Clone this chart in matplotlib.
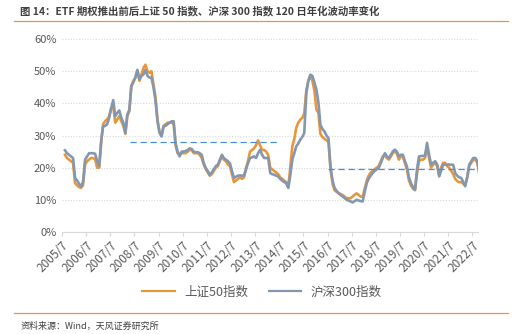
import matplotlib
matplotlib.use("Agg")
import matplotlib.pyplot as plt
import pandas as pd

plt.rcParams['font.family'] = ['Noto Sans CJK SC', 'DejaVu Sans']

# monthly dates, 2005/7 - 2022/9
dates = pd.date_range('2005-07-15', periods=207, freq='MS') + pd.Timedelta(days=14)

# 沪深300指数 120日年化波动率 (%), monthly reading
hs300 = [
    25.4, 24.5, 24.0, 23.5, 23.0, 16.8,
    16.0, 15.0, 14.2, 15.5, 22.5, 23.5, 24.5, 24.5, 24.5, 24.3, 22.0, 20.5,
    28.7, 32.8, 33.0, 33.5, 35.5, 38.5, 41.0, 36.0, 37.0, 37.8, 35.5, 34.0,
    30.8, 36.5, 38.0, 45.3, 46.5, 48.0, 50.4, 47.5, 48.5, 49.0, 50.4, 48.5,
    48.0, 48.0, 45.0, 41.0, 34.4, 31.0, 29.7, 32.8, 33.0, 33.5, 34.0, 34.4,
    34.4, 27.7, 25.0, 23.5, 25.0, 25.0, 25.2, 25.5, 26.0, 25.8, 25.0, 24.8,
    24.8, 24.5, 24.0, 21.5, 19.9, 19.0, 17.8, 18.5, 19.5, 20.5, 20.9, 22.5,
    24.0, 23.0, 22.5, 22.0, 21.4, 19.0, 16.8, 17.2, 17.5, 17.6, 17.5, 17.6,
    19.5, 21.4, 23.0, 23.2, 23.5, 23.0, 24.5, 25.6, 24.0, 23.0, 23.0, 23.0,
    18.3, 18.0, 17.8, 17.5, 17.3, 16.5, 16.0, 15.5, 15.2, 13.7, 17.5, 22.5,
    24.5, 26.6, 27.5, 28.7, 29.5, 30.8, 43.2, 47.0, 48.9, 48.5, 46.5, 44.2,
    40.1, 33.3, 32.0, 31.3, 30.0, 29.2, 20.4, 16.0, 13.7, 12.8, 12.1, 11.5,
    11.0, 10.6, 10.0, 9.8, 9.5, 9.2, 9.6, 10.0, 9.8, 9.6, 9.5, 12.5,
    15.2, 16.5, 17.5, 18.3, 19.0, 19.5, 19.9, 21.5, 23.0, 24.5, 23.5, 23.0,
    24.0, 25.0, 25.6, 25.0, 23.5, 24.0, 24.0, 22.0, 20.4, 17.0, 15.2, 14.0,
    13.1, 19.3, 23.5, 23.6, 23.7, 23.7, 27.7, 24.0, 20.9, 21.5, 22.0, 21.0,
    17.3, 19.0, 20.9, 21.0, 20.9, 21.0, 20.9, 20.9, 18.3, 17.5, 17.0, 16.8,
    15.5, 14.2, 17.0, 20.9, 22.0, 23.0, 23.0, 22.0, 18.3,
]

# 上证50指数 120日年化波动率 (%)
sz50 = [
    24.0, 23.0, 22.5, 22.0, 21.5, 15.2,
    14.5, 14.0, 13.7, 14.5, 21.0, 22.0, 22.5, 23.0, 23.0, 22.5, 20.0, 20.0,
    28.0, 33.5, 34.5, 35.0, 36.0, 38.5, 39.0, 34.0, 35.0, 36.0, 34.5, 33.0,
    30.5, 36.0, 37.5, 45.5, 47.0, 48.0, 50.0, 47.0, 49.0, 51.0, 52.0, 50.0,
    49.5, 50.0, 46.0, 42.0, 35.0, 31.0, 30.0, 33.0, 33.5, 34.0, 34.0, 34.0,
    33.5, 27.0, 24.5, 24.0, 24.5, 24.5, 24.5, 25.0, 25.5, 25.5, 24.5, 24.5,
    24.5, 24.0, 23.0, 21.0, 19.5, 18.5, 17.5, 18.0, 19.0, 20.0, 20.5, 22.0,
    23.5, 22.5, 22.0, 21.0, 20.5, 18.0, 15.5, 16.0, 16.5, 17.0, 16.5, 17.0,
    20.0, 22.0, 25.0, 25.5, 26.0, 27.0, 28.5, 27.0, 25.5, 25.5, 25.0, 24.0,
    20.0, 19.5, 19.0, 18.5, 18.0, 17.0, 16.5, 16.0, 15.5, 14.0, 20.0, 26.6,
    29.0, 32.3, 34.0, 34.9, 35.5, 36.9, 44.0, 47.0, 48.5, 47.0, 44.0, 38.0,
    37.0, 30.5, 29.5, 29.0, 28.5, 28.0, 19.5, 15.0, 13.0, 12.5, 12.0, 11.8,
    11.5, 11.0, 10.5, 10.5, 10.5, 11.0, 11.6, 12.0, 11.5, 11.0, 11.0, 13.5,
    16.0, 17.5, 18.5, 19.0, 19.5, 20.0, 20.5, 22.0, 23.5, 24.0, 23.0, 22.5,
    23.5, 24.5, 25.0, 24.5, 22.5, 23.5, 23.5, 21.5, 19.5, 16.0, 14.5, 13.5,
    13.0, 18.0, 22.0, 22.5, 22.5, 23.0, 26.5, 23.0, 20.0, 21.0, 21.5, 20.5,
    17.5, 20.0, 21.5, 21.5, 20.5, 20.0, 19.0, 18.0, 16.5, 15.8, 15.5, 15.5,
    15.0, 14.5, 17.0, 20.5, 21.5, 22.5, 22.5, 21.5, 18.0,
]

# average-level reference lines (start, end, value)
ref_lines = [('2008-05-01', '2014-06-15', 28.0), ('2016-07-01', '2022-09-25', 19.5)]

years = list(range(2005, 2023))
tick_dates = [pd.Timestamp(f'{y}-07-01') for y in years]
tick_labels = [f'{y}/7' for y in years]

fig = plt.figure(figsize=(5.18, 3.34), dpi=100)
ax = fig.add_axes([62 / 518, 102 / 334, 416 / 518, 193 / 334])

orange = '#E8963A'
grey = '#8497B0'
ax.plot(dates, sz50, color=orange, lw=1.9, label='上证50指数', zorder=3)
ax.plot(dates, hs300, color=grey, lw=1.9, label='沪深300指数', zorder=4)

for s, e, v in ref_lines:
    ax.plot([pd.Timestamp(s), pd.Timestamp(e)], [v, v], color='#4A90D9',
            lw=0.9, ls=(0, (5, 3)), zorder=5)

ax.set_xlim(pd.Timestamp('2005-07-01'), pd.Timestamp('2022-09-25'))
ax.set_ylim(0, 60)
ax.set_yticks(range(0, 61, 10))
ax.set_yticklabels([f'{v}%' for v in range(0, 61, 10)])
ax.set_xticks(tick_dates)
ax.set_xticklabels(tick_labels, rotation=45, ha='right', rotation_mode='anchor')

ax.grid(axis='y', color='#D9D9D9', ls=(0, (1, 1.5)), lw=0.8)
ax.set_axisbelow(True)
for sp in ['top', 'right', 'left']:
    ax.spines[sp].set_visible(False)
ax.spines['bottom'].set_color('#D9D9D9')
ax.tick_params(axis='y', length=0, labelsize=8, labelcolor='#595959', pad=4)
ax.tick_params(axis='x', length=3, color='#D9D9D9', labelsize=8.5,
               labelcolor='#595959', pad=2)

leg = fig.legend(loc='center', bbox_to_anchor=(262 / 518, 1 - 292 / 334), ncol=2,
                 frameon=False, fontsize=9, handlelength=2.6, columnspacing=1.6,
                 labelcolor='#595959')
for h in leg.get_lines():
    h.set_linewidth(1.6)

fig.text(20 / 518, 1 - 11 / 334,
         '图 14：ETF 期权推出前后上证 50 指数、沪深 300 指数 120 日年化波动率变化',
         fontsize=7.5, fontweight='bold', color='#404040', va='center')
fig.add_artist(plt.Line2D([14 / 518, 508 / 518], [1 - 21 / 334, 1 - 21 / 334],
                          color='#E8963A', lw=0.9))
fig.add_artist(plt.Line2D([14 / 518, 508 / 518], [1 - 313 / 334, 1 - 313 / 334],
                          color='#E8963A', lw=0.9))
fig.text(21 / 518, 1 - 326 / 334, '资料来源：Wind，天风证券研究所',
         fontsize=6.5, color='#404040', va='center')

fig.savefig('out.png', dpi=100)
